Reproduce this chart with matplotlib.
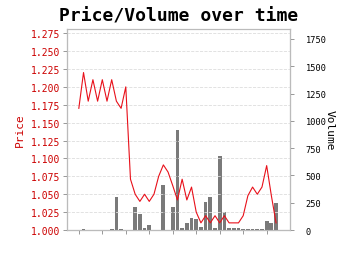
import numpy as np
import matplotlib.pyplot as plt

# price and volume per day
price = [1.170, 1.220, 1.180, 1.210, 1.180, 1.210, 1.180, 1.210, 1.180, 1.170,
         1.200, 1.071, 1.050, 1.040, 1.050, 1.040, 1.050, 1.075, 1.091, 1.081,
         1.062, 1.042, 1.071, 1.042, 1.060, 1.025, 1.010, 1.020, 1.010, 1.020,
         1.010, 1.020, 1.010, 1.010, 1.010, 1.020, 1.048, 1.060, 1.050, 1.060,
         1.090, 1.048, 1.010]
volume = [0, 8, 0, 0, 0, 0, 4, 6, 303, 6,
          0, 0, 212, 150, 15, 46, 4, 4, 413, 0,
          212, 920, 18, 64, 109, 100, 27, 255, 305, 18,
          675, 164, 18, 18, 18, 10, 10, 10, 10, 10,
          82, 64, 246]
days = np.arange(len(price))

plt.rcParams['font.family'] = 'DejaVu Sans Mono'
fig = plt.figure(figsize=(3.5, 2.55), dpi=100)
ax = fig.add_axes([0.191, 0.094, 0.638, 0.788])
ax2 = ax.twinx()

ax2.bar(days, volume, width=0.8, color='#7a7a7a')
ax.plot(days, price, color='#e8101a', lw=0.8)

ax.set_zorder(ax2.get_zorder() + 1)
ax.patch.set_visible(False)

ax.set_xlim(-2.55, 45)
ax.set_ylim(1.0, 1.2807)
ax2.set_ylim(0, 1840)
ax.set_yticks(np.arange(1.0, 1.276, 0.025))
ax.set_yticklabels(['%.3f' % v for v in np.arange(1.0, 1.276, 0.025)])
ax2.set_yticks(np.arange(0, 1751, 250))
ax.set_xticks(np.arange(0, 41, 5))
ax.set_xticklabels([])

ax.grid(axis='y', ls='--', color='#dddddd', lw=0.6)
ax.tick_params(axis='y', colors='#cc0000', labelsize=7, length=3, width=0.6, pad=2)
ax.tick_params(axis='y', color='#888888')
ax.tick_params(axis='x', length=3, width=0.6, color='#888888')
ax2.tick_params(axis='y', labelsize=6.2, length=3, width=0.6, color='#888888', pad=8)

for a in (ax, ax2):
    for s in a.spines.values():
        s.set_color('#bbbbbb')
        s.set_linewidth(0.8)
ax2.spines['right'].set_color('#888888')
ax2.spines['left'].set_color('#888888')
ax2.spines['bottom'].set_color('#888888')

ax.set_ylabel('Price', color='#cc0000', fontsize=8)
ax2.set_ylabel('Volume', fontsize=8, rotation=270, labelpad=6)
ax.set_title('Price/Volume over time', fontsize=13, fontweight='bold', pad=6)

fig.savefig('out.png', dpi=100)
